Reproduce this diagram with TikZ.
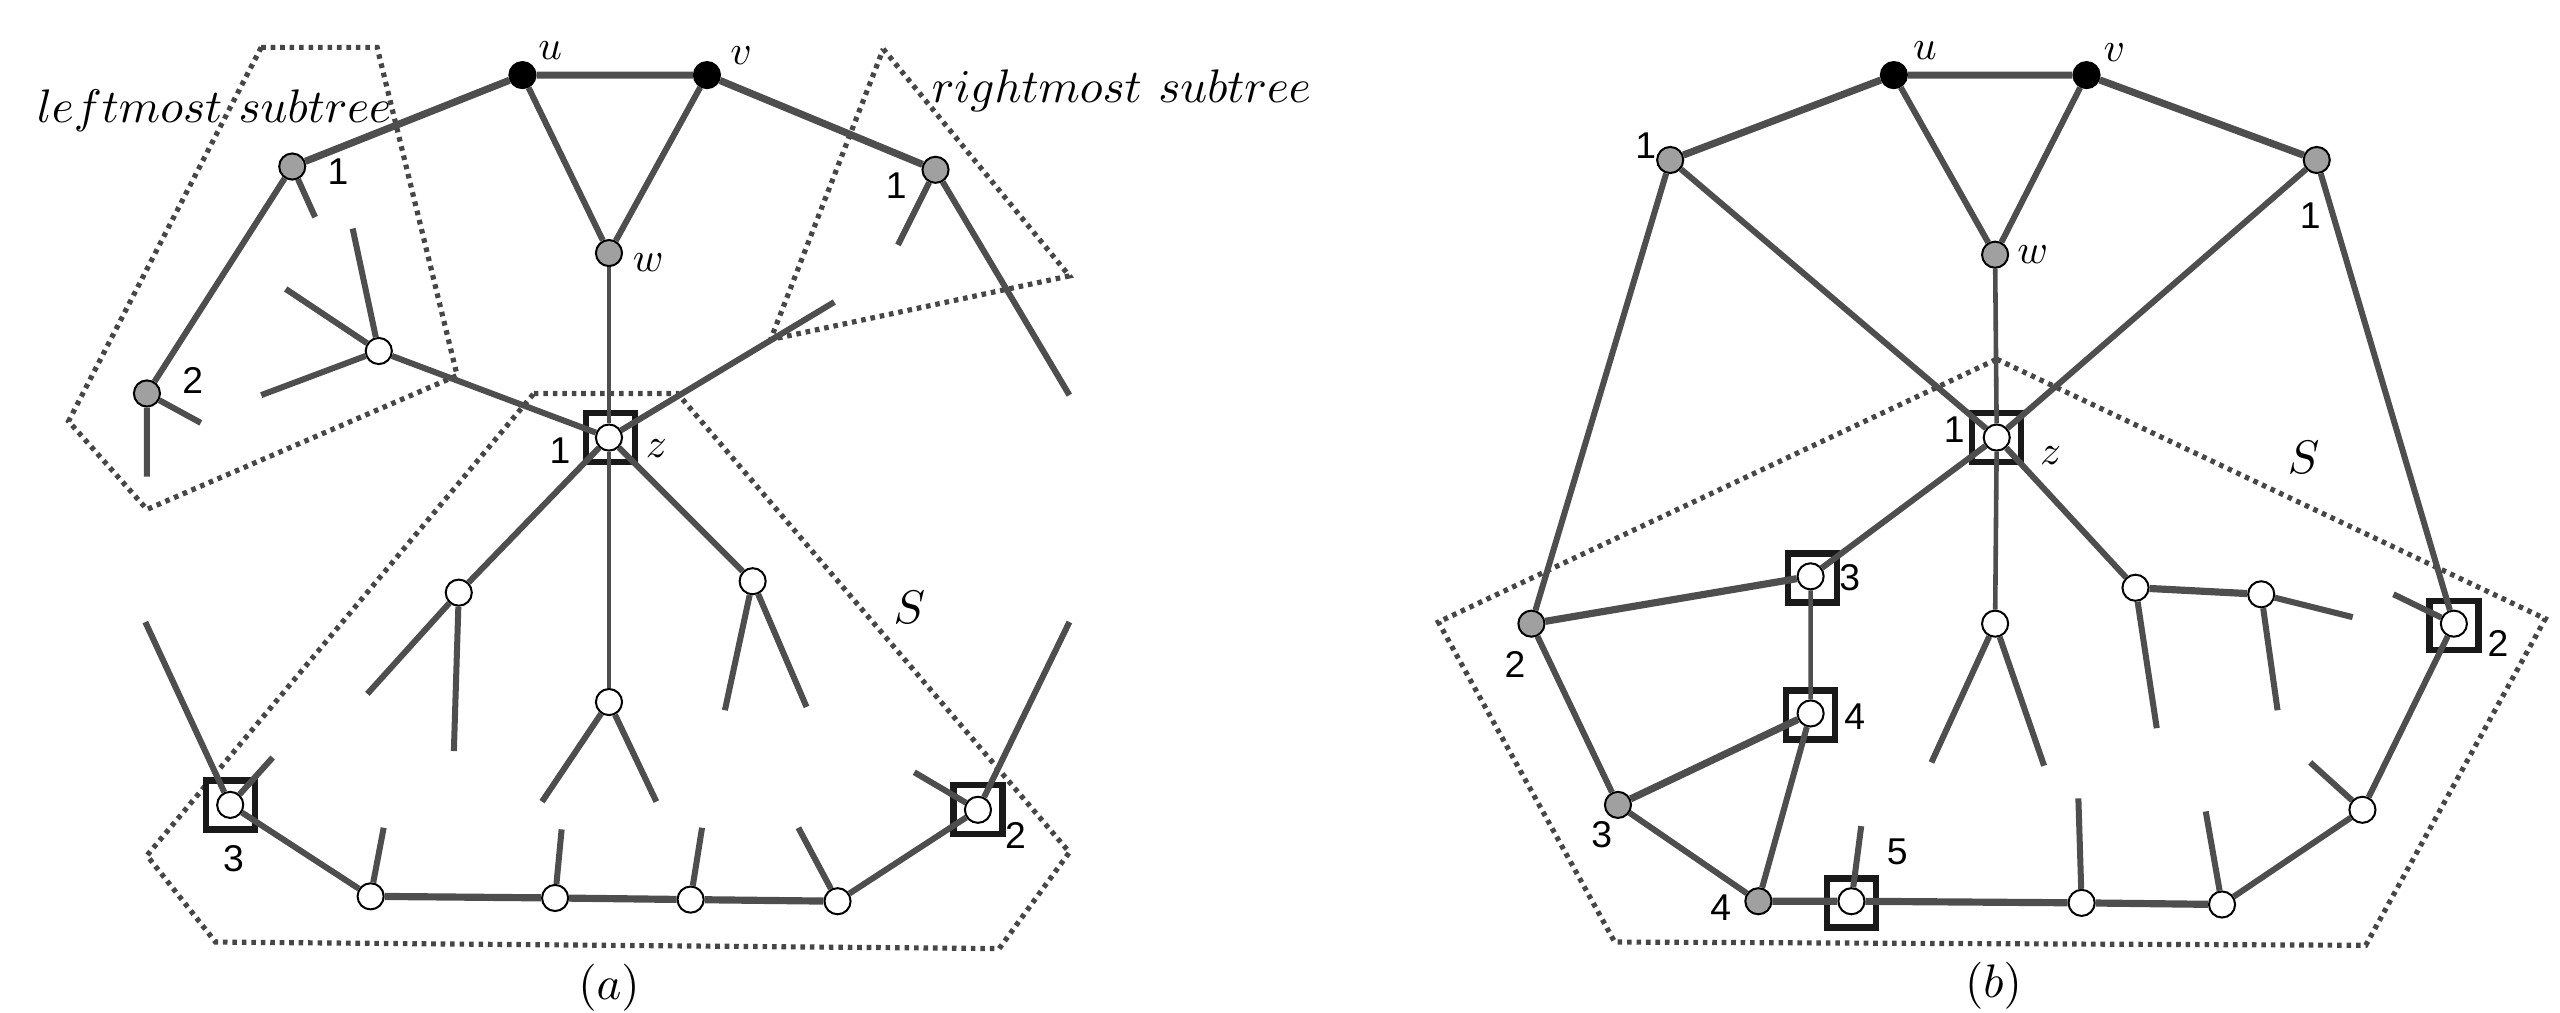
\documentclass[tikz,border=0pt]{standalone}
\usepackage{fontspec}
\newfontfamily\digitfont{Liberation Sans}
\DeclareFontShape{OML}{cmm}{m}{it}{<->cmmi10}{}
\DeclareFontShape{OT1}{cmr}{m}{n}{<->cmr10}{}
\usetikzlibrary{positioning}
\definecolor{edgegray}{RGB}{78,78,78}
\definecolor{nodegray}{RGB}{160,160,160}
\definecolor{dotgray}{RGB}{70,70,70}
\definecolor{sqblack}{RGB}{25,25,25}
\tikzset{
  vtx/.style={circle, draw=black, line width=0.35pt, inner sep=0pt, minimum size=1.6mm},
  vblack/.style={vtx, fill=black},
  vgray/.style={vtx, fill=nodegray},
  vwhite/.style={vtx, fill=white},
  sqbox/.style={rectangle, draw=sqblack, line width=1.1pt, inner sep=0pt, minimum size=3mm},
  ed/.style={draw=edgegray, line width=1.05pt},
  edthick/.style={draw=edgegray, line width=1.25pt},
  edthin/.style={draw=edgegray, line width=0.8pt},
  region/.style={draw=dotgray, line width=0.9pt, dash pattern=on 0.8pt off 0.85pt},
  nm/.style={inner sep=0pt, font=\fontsize{7.2}{8.5}\selectfont},
  num/.style={inner sep=0pt, font=\fontsize{6.5}{7.5}\selectfont\digitfont},
  big/.style={inner sep=0pt, font=\fontsize{8.2}{9.5}\selectfont},
}
\begin{document}
\begin{tikzpicture}[x=0.1mm, y=-0.1mm]
  \useasboundingbox (0,0) rectangle (1568,620);

  % ---------- (a) ----------
  \draw[region] (160,29) -- (231,29) -- (280,230) -- (90,312) -- (42,258) -- cycle;
  \draw[region] (541,30) -- (655,169) -- (472,208) -- cycle;
  \draw[region] (327,241) -- (415,241) -- (655,522) -- (612,581) -- (132,577) -- (90,524) -- cycle;

  \node[vblack] (au) at (320,46) {};
  \node[vblack] (av) at (433,46) {};
  \node[vgray] (al1) at (179,102) {};
  \node[vgray] (ar1) at (573,104) {};
  \node[vgray] (aw) at (373,155) {};
  \node[vwhite] (az) at (373,268) {};
  \node[sqbox] (azq) at (374,268) {};
  \node[vwhite] (alc) at (232,215) {};
  \node[vgray] (al2) at (90,241) {};
  \node[vwhite] (ab) at (281,363) {};
  \node[vwhite] (ac) at (373,430) {};
  \node[vwhite] (ad) at (461,356) {};
  \node[vwhite] (at3) at (141,493) {};
  \node[sqbox] (at3q) at (141,493) {};
  \node[vwhite] (at2) at (599,496) {};
  \node[sqbox] (at2q) at (599,496) {};
  \node[vwhite] (ae1) at (227,549) {};
  \node[vwhite] (ae2) at (340,550) {};
  \node[vwhite] (ae3) at (423,551) {};
  \node[vwhite] (ae4) at (513,552) {};

  \coordinate (al1x) at (193,133);
  \coordinate (al2x) at (123,259);
  \coordinate (al2y) at (90,292);
  \coordinate (alcx) at (216,140);
  \coordinate (alcy) at (175,177);
  \coordinate (alcz) at (160,242);
  \coordinate (ar1x) at (550,150);
  \coordinate (ar1y) at (655,242);
  \coordinate (azx) at (511,185);
  \coordinate (abx) at (225,425);
  \coordinate (aby) at (278,460);
  \coordinate (acx) at (332,491);
  \coordinate (acy) at (402,491);
  \coordinate (adx) at (444,435);
  \coordinate (ady) at (494,433);
  \coordinate (at3x) at (89,381);
  \coordinate (at3y) at (167,464);
  \coordinate (ae1x) at (235,507);
  \coordinate (ae2x) at (344,508);
  \coordinate (ae3x) at (430,507);
  \coordinate (ae4x) at (489,507);
  \coordinate (at2x) at (655,381);
  \coordinate (at2y) at (560,473);

  \draw[edthick] (au) -- (av) (au) -- (al1) (av) -- (ar1);
  \draw[edthick] (ae1) -- (ae2) -- (ae3) -- (ae4);
  \draw[ed] (au) -- (aw) (av) -- (aw);
  \draw[edthin] (aw) -- (az) (az) -- (ac);
  \draw[ed] (al1) -- (al1x) (al1) -- (al2) (al2) -- (al2x) (al2) -- (al2y);
  \draw[ed] (alc) -- (alcx) (alc) -- (alcy) (alc) -- (alcz) (alc) -- (az);
  \draw[ed] (ar1) -- (ar1x) (ar1) -- (ar1y) (az) -- (azx);
  \draw[ed] (az) -- (ab) (ab) -- (abx) (ab) -- (aby);
  \draw[ed] (ac) -- (acx) (ac) -- (acy);
  \draw[ed] (az) -- (ad) (ad) -- (adx) (ad) -- (ady);
  \draw[ed] (at3) -- (at3x) (at3) -- (at3y) (at3) -- (ae1);
  \draw[ed] (ae1) -- (ae1x) (ae2) -- (ae2x) (ae3) -- (ae3x) (ae4) -- (ae4x);
  \draw[ed] (ae4) -- (at2) (at2) -- (at2x) (at2) -- (at2y);

  \node[nm] (aulbl) at (337,31) {$u$};
  \node[nm] (avlbl) at (454,34) {$v$};
  \node[nm] (awlbl) at (397,161) {$w$};
  \node[nm] (azlbl) at (402,275) {$z$};
  \node[num] (al1lbl) at (207,105) {1};
  \node[num] (ar1lbl) at (549,114) {1};
  \node[num] (azlbl1) at (343,276) {1};
  \node[num] (al2lbl) at (118,233) {2};
  \node[num] (at3lbl) at (143,526) {3};
  \node[num] (at2lbl) at (622,512) {2};
  \node[big, anchor=base west] (alefttxt) at (22,75) {$leftmost~subtree$};
  \node[big, anchor=base west] (arighttxt) at (570,63) {$rightmost~subtree$};
  \node[big] (aS) at (557,372) {$S$};
  \node[big] (acap) at (373,605) {$(a)$};

  % ---------- (b) ----------
  \draw[region] (1223,220) -- (1559,379) -- (1449,579) -- (989,577) -- (881,381) -- cycle;

  \node[vblack] (bu) at (1160,46) {};
  \node[vblack] (bv) at (1278,46) {};
  \node[vgray] (bl1) at (1023,98) {};
  \node[vgray] (br1) at (1419,98) {};
  \node[vgray] (bw) at (1222,156) {};
  \node[vwhite] (bz) at (1223,268) {};
  \node[sqbox] (bzq) at (1223,268) {};
  \node[vgray] (bl2) at (938,382) {};
  \node[vwhite] (bs3) at (1109,353) {};
  \node[sqbox] (bs3q) at (1110,354) {};
  \node[vwhite] (bs4) at (1109,437) {};
  \node[sqbox] (bs4q) at (1109,438) {};
  \node[vgray] (bg3) at (991,493) {};
  \node[vgray] (bg4) at (1077,552) {};
  \node[vwhite] (bs5) at (1134,552) {};
  \node[sqbox] (bs5q) at (1134,553) {};
  \node[vwhite] (bf1) at (1275,553) {};
  \node[vwhite] (bf2) at (1361,554) {};
  \node[vwhite] (bf3) at (1447,496) {};
  \node[vwhite] (bs2) at (1503,382) {};
  \node[sqbox] (bs2q) at (1503,383) {};
  \node[vwhite] (bG) at (1222,382) {};
  \node[vwhite] (bH) at (1308,360) {};
  \node[vwhite] (bI) at (1385,364) {};

  \coordinate (bs5x) at (1140,506);
  \coordinate (bf1x) at (1273,489);
  \coordinate (bf2x) at (1351,497);
  \coordinate (bf3x) at (1415,467);
  \coordinate (bs2x) at (1466,364);
  \coordinate (bGx) at (1183,467);
  \coordinate (bGy) at (1252,469);
  \coordinate (bHx) at (1321,446);
  \coordinate (bIx) at (1395,435);
  \coordinate (bIy) at (1441,378);

  \draw[edthick] (bu) -- (bv) (bu) -- (bl1) (bv) -- (br1);
  \draw[edthick] (bl2) -- (bs3) (bg3) -- (bs4) (bH) -- (bI);
  \draw[edthick] (bg4) -- (bs5) -- (bf1) -- (bf2);
  \draw[ed] (bu) -- (bw) (bv) -- (bw);
  \draw[edthin] (bw) -- (bz) (bz) -- (bG) (bs3) -- (bs4);
  \draw[ed] (bl1) -- (bz) (br1) -- (bz) (bl1) -- (bl2) (br1) -- (bs2);
  \draw[ed] (bz) -- (bs3) (bl2) -- (bg3) (bg3) -- (bg4) (bs4) -- (bg4);
  \draw[ed] (bs5) -- (bs5x) (bf1) -- (bf1x) (bf2) -- (bf2x);
  \draw[ed] (bf2) -- (bf3) (bf3) -- (bf3x) (bf3) -- (bs2) (bs2) -- (bs2x);
  \draw[ed] (bG) -- (bGx) (bG) -- (bGy);
  \draw[ed] (bz) -- (bH) (bH) -- (bHx) (bI) -- (bIx) (bI) -- (bIy);

  \node[nm] (bulbl) at (1179,31) {$u$};
  \node[nm] (bvlbl) at (1295,32) {$v$};
  \node[nm] (bwlbl) at (1245,156) {$w$};
  \node[nm] (bzlbl) at (1256,279) {$z$};
  \node[num] (bl1lbl) at (1008,89) {1};
  \node[num] (br1lbl) at (1415,132) {1};
  \node[num] (bzlbl1) at (1197,263) {1};
  \node[num] (bl2lbl) at (928,407) {2};
  \node[num] (bs3lbl) at (1133,354) {3};
  \node[num] (bs4lbl) at (1136,439) {4};
  \node[num] (bg3lbl) at (981,511) {3};
  \node[num] (bg4lbl) at (1054,556) {4};
  \node[num] (bs5lbl) at (1162,522) {5};
  \node[num] (bs2lbl) at (1530,394) {2};
  \node[big] (bS) at (1411,280) {$S$};
  \node[big] (bcap) at (1221,604) {$(b)$};
\end{tikzpicture}
\end{document}
